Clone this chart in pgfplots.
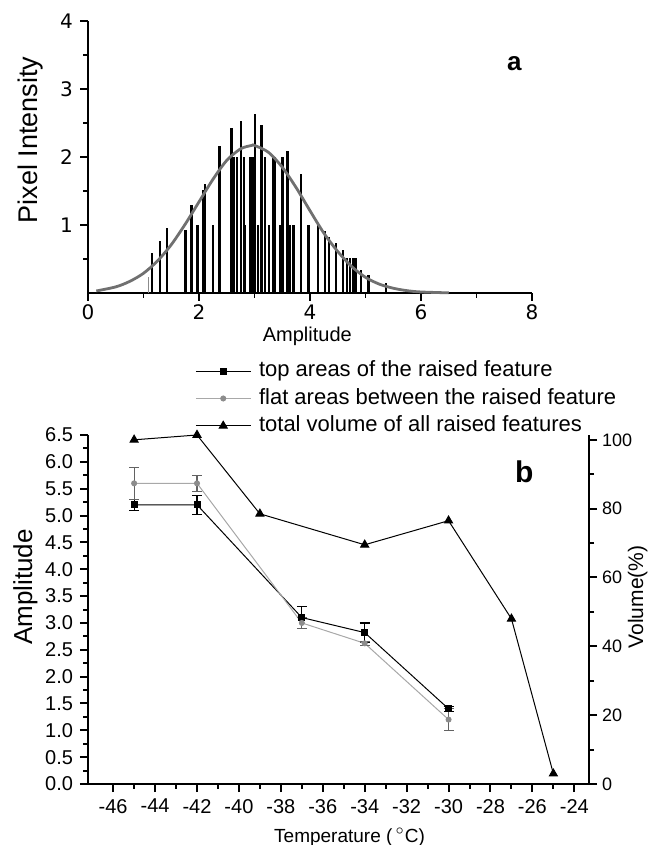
\documentclass[border=0pt]{standalone}
\usepackage{fontspec}
\setmainfont{Liberation Sans}
\newfontfamily\verd{DejaVu Sans}
\usepackage{pgfplots}
\pgfplotsset{compat=1.18}

\definecolor{curvegray}{HTML}{707070}
\definecolor{flatgray}{HTML}{8C8C8C}
\definecolor{flatline}{HTML}{A8A8A8}

% panel b data: x, amplitude, error
\pgfplotstableread{
x y e
-45 5.2 0.10
-42 5.2 0.18
-37 3.1 0.20
-34 2.82 0.18
-30 1.4 0.05
}\toptable
\pgfplotstableread{
x y e
-45 5.6 0.30
-42 5.6 0.15
-37 3.0 0.10
-34 2.62 0.04
-30 1.2 0.20
}\flattable

\begin{document}
\begin{tikzpicture}
\useasboundingbox (0,0) rectangle (325pt,422.5pt);

% ---------- panel a ----------
\begin{axis}[
  at={(44pt,276pt)}, anchor=south west,
  scale only axis, width=222pt, height=136pt,
  xmin=0, xmax=8, ymin=0, ymax=4,
  axis x line*=bottom, axis y line*=left,
  xtick={0,2,4,6,8}, minor xtick={1,3,5,7},
  ytick={1,2,3,4}, minor ytick={0.5,1.5,2.5,3.5},
  tick align=outside, major tick length=4pt, minor tick length=2.5pt,
  every tick/.style={black, line width=0.8pt},
  axis line style={line width=1pt},
  ticklabel style={font=\verd\fontsize{10}{11}\selectfont},
  xticklabel style={yshift=1.5pt},
  /pgf/number format/assume math mode=true,
  clip=false,
]
\addplot[ycomb, flatgray, line width=0.6pt] coordinates {(1.085,0.235)};
\addplot[ycomb, black, line width=1.15pt] coordinates {
  (1.157,0.59) (1.295,0.76) (1.427,0.95) (1.757,0.93) (1.865,1.30)
  (1.973,1.0) (2.068,1.51) (2.104,1.61) (2.248,1.0) (2.368,2.16)
  (2.584,2.43) (2.626,2.0) (2.686,2.0) (2.752,2.53) (2.806,2.0)
  (2.83,1.0) (2.93,2.0) (2.97,2.0) (3.004,2.63) (3.063,1.0)
  (3.124,2.47) (3.183,2.0) (3.255,1.0) (3.327,2.0) (3.375,2.0)
  (3.465,1.0) (3.507,2.0) (3.597,2.09) (3.645,1.0) (3.705,1.0)
  (3.844,1.75) (3.975,1.0) (4.14,1.0) (4.275,0.91) (4.347,0.83)
  (4.473,0.73) (4.598,0.63) (4.67,0.52) (4.72,0.52) (4.77,0.52)
  (4.82,0.52) (4.92,0.34) (5.054,0.26) (5.37,0.14)
};
\addplot[curvegray, line width=1.4pt, smooth] coordinates {
  (0.15,0.03) (0.5,0.09) (0.75,0.17) (1.0,0.29) (1.25,0.47)
  (1.5,0.71) (1.75,1.01) (2.0,1.34) (2.25,1.67) (2.5,1.95)
  (2.75,2.12) (2.95,2.17) (3.0,2.17) (3.25,2.07) (3.5,1.85)
  (3.75,1.55) (4.0,1.21) (4.25,0.88) (4.5,0.61) (4.75,0.39)
  (5.0,0.23) (5.25,0.13) (5.5,0.07) (5.75,0.034) (6.0,0.015)
  (6.5,0.002)
};
\node[rotate=90, font=\fontsize{13.5}{15}\selectfont] at (rel axis cs:-0.13,0.5625) {Pixel Intensity};
\node[font=\fontsize{10}{12}\selectfont] at (rel axis cs:0.494,-0.16) {Amplitude};
\node[font=\bfseries\fontsize{13}{15}\selectfont] at (rel axis cs:0.96,0.845) {a};
\end{axis}

% ---------- panel b, left axis ----------
\begin{axis}[
  at={(44pt,30.5pt)}, anchor=south west,
  scale only axis, width=250.5pt, height=174.5pt,
  xmin=-47.2, xmax=-23.3, ymin=0, ymax=6.5,
  axis x line*=bottom, axis y line*=left,
  xtick={-46,-44,-42,-40,-38,-36,-34,-32,-30,-28,-26,-24}, minor x tick num=1,
  ytick={0,0.5,1,1.5,2,2.5,3,3.5,4,4.5,5,5.5,6,6.5}, minor y tick num=1,
  yticklabel style={/pgf/number format/.cd, fixed, fixed zerofill, precision=1},
  tick align=outside, major tick length=4pt, minor tick length=2.5pt,
  every tick/.style={black, line width=1pt},
  axis line style={line width=1.2pt},
  ticklabel style={font=\fontsize{10}{12}\selectfont},
  /pgf/number format/assume math mode=true,
  clip=false,
  legend cell align=left,
  legend image code/.code={\draw[mark repeat=2, mark phase=2] plot coordinates {(0cm,0cm) (0.48cm,0cm) (0.96cm,0cm)};},
  legend style={draw=none, fill=none, inner sep=0pt,
    at={(axis description cs:0.2136,1.215)}, anchor=north west,
    font=\fontsize{11}{13}\selectfont, row sep=3pt,
    nodes={inner sep=0pt, text height=8.2pt, text depth=2.5pt},
    /tikz/every odd column/.append style={column sep=4pt}},
]
\addplot[black, line width=0.5pt, mark=square*, mark size=1.5pt,
  error bars/.cd, y dir=both, y explicit,
  error bar style={black, line width=0.6pt},
  error mark options={rotate=90, mark size=2.5pt, black, line width=0.6pt}]
  table[x=x, y=y, y error=e] {\toptable};
\addlegendentry{top areas of the raised feature}
\addplot[flatline, line width=0.5pt, mark=*, mark size=1.25pt, mark options={flatgray, fill=flatgray},
  error bars/.cd, y dir=both, y explicit,
  error bar style={flatgray!70!black, line width=0.6pt},
  error mark options={rotate=90, mark size=2.5pt, flatgray!70!black, line width=0.6pt}]
  table[x=x, y=y, y error=e] {\flattable};
\addlegendentry{flat areas between the raised feature}
\addlegendimage{black, line width=0.5pt, mark=triangle*, mark size=2.3pt}
\addlegendentry{total volume of all raised features}
\node[rotate=90, font=\fontsize{13}{15}\selectfont] at (rel axis cs:-0.125,0.564) {Amplitude};
\node[font=\fontsize{9.5}{12}\selectfont] at (rel axis cs:0.522,-0.152) {Temperature (\,$^{\circ}$C)};
\node[font=\bfseries\fontsize{15}{17}\selectfont] at (rel axis cs:0.871,0.894) {b};
\end{axis}

% ---------- panel b, right axis ----------
\begin{axis}[
  at={(44pt,30.5pt)}, anchor=south west,
  scale only axis, width=250.5pt, height=174.5pt,
  xmin=-47.2, xmax=-23.3, ymin=0, ymax=101.4,
  axis x line=none, axis y line*=right,
  ytick={0,20,40,60,80,100}, minor y tick num=1,
  tick align=outside, major tick length=4pt, minor tick length=2.5pt,
  every tick/.style={black, line width=1pt},
  axis line style={line width=1.2pt},
  ticklabel style={font=\fontsize{9}{11}\selectfont},
  yticklabel style={xshift=-1pt},
  /pgf/number format/assume math mode=true,
  clip=false,
]
\addplot[black, line width=0.5pt, mark=triangle*, mark size=2.3pt] coordinates {
  (-45,100) (-42,101.4) (-39,78.5) (-34,69.5) (-30,76.5) (-27,48) (-25,3)
};
\node[rotate=90, font=\fontsize{10.5}{12}\selectfont] at (rel axis cs:1.097,0.536) {Volume(\%)};
\end{axis}
\end{tikzpicture}
\end{document}
